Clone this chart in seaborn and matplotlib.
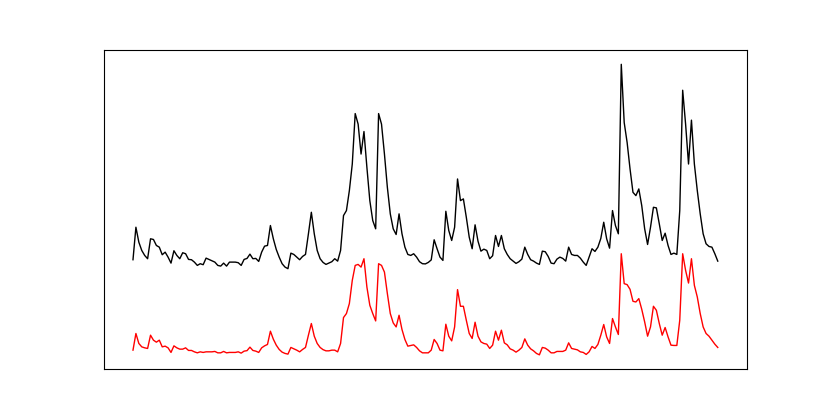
from matplotlib import pyplot as plt
import numpy as np
import pandas as pd
import seaborn as sns

# values (arbitrary units, higher = up)
black_px = [
    259.3, 226.7, 241.7, 250, 255, 258.3, 238.3, 239, 245, 246.7,
    254.3, 251.7, 256.7, 262.7, 250.3, 255, 258.3, 252.3, 253.3, 259,
    259.3, 261.7, 265, 263.3, 264.3, 257.7, 259, 260.3, 261.7, 265,
    265.7, 262.7, 265.7, 261.7, 261.7, 261.7, 262.3, 265, 259, 258,
    253.7, 258.3, 258, 261, 251.7, 245.7, 245, 225, 238.3, 249,
    256.7, 263.3, 266.7, 268.3, 252.7, 254, 256.7, 259.3, 256, 254,
    233.3, 211.7, 233.3, 250, 258.3, 262, 264, 262.7, 261.3, 258.3,
    260.7, 250, 215, 210, 190, 163.3, 112.7, 123.3, 153.3, 130.7,
    166.7, 200, 220, 228.3, 112.7, 123.3, 153.3, 186.7, 213.3, 228.3,
    234, 213.3, 233.3, 246.7, 254, 255, 253.3, 256.7, 261.3, 263.3,
    263.5, 262, 259.5, 239.3, 248.3, 256.7, 260, 210.7, 230, 240,
    226.7, 178.3, 200, 198.3, 216.7, 236.7, 248.3, 224.3, 240.7, 250.7,
    248.7, 250, 258.3, 255.3, 235, 246, 235, 248.3, 254, 258.3,
    260.7, 263, 261.3, 258.7, 246.7, 254, 259.3, 260.7, 262.7, 264,
    250.7, 251.3, 256, 262.7, 263.3, 258.7, 256.7, 258, 260.7, 246.7,
    254, 255, 255, 257.7, 261.7, 265, 256.7, 248.3, 251, 246.7,
    238, 221.7, 238.3, 247.7, 210, 225, 233.3, 63.3, 121.7, 141.7,
    168.3, 191.7, 195, 188.3, 205, 228.3, 244, 226.7, 206.7, 207.3,
    223.3, 240, 232.7, 245, 254, 252.7, 254, 210, 89.3, 123.3,
    163.3, 119.3, 163.3, 190, 213.3, 233.3, 243.3, 246, 246.7, 253.3,
    260.7,
]

red_px = [
    350, 333.3, 343.3, 346.7, 347.7, 348.3, 335, 340, 342, 340,
    346.7, 346, 347.7, 352.3, 345.7, 347.7, 349, 349, 347.7, 350.3,
    350.3, 351.7, 352.7, 351.7, 352.3, 351.7, 351.7, 351.7, 351.3, 352.7,
    352.7, 351.3, 352.7, 352.3, 352.3, 352.3, 351.7, 353, 351, 350.5,
    347, 350.3, 351, 352.3, 347.7, 345.7, 344.3, 331, 339, 345,
    349.3, 352, 353.3, 354, 347.3, 348.7, 350, 351.7, 349.3, 347.3,
    335, 323.3, 336, 343.3, 347.3, 349.5, 350.7, 350.7, 350, 350,
    351.7, 343.3, 317.3, 313.3, 303.3, 280, 265, 264, 266.7, 258.3,
    286.7, 305, 313.3, 320.7, 263.3, 265, 271.7, 293.3, 313.3, 322.7,
    326.7, 315, 329.3, 339.3, 346, 345.3, 344.7, 347.3, 350.7, 352.7,
    352.7, 352.7, 350, 339.3, 343.3, 350, 350.7, 324, 336, 340.7,
    326.7, 289.3, 306, 306, 320, 333.3, 338.3, 322, 336, 341.7,
    343.3, 344, 348.3, 345, 331, 340, 330, 342.7, 344.7, 348.7,
    350, 352, 350, 347.3, 338.7, 345, 348.7, 350.7, 353.3, 354.7,
    347.3, 348, 350, 352.7, 352.7, 351.3, 351.3, 351.3, 350, 342.7,
    348.3, 349, 349.7, 351.7, 352.3, 354.3, 351.7, 346.3, 348.3, 344.3,
    335, 324.3, 336.7, 343.3, 318.3, 326.7, 334.3, 253.3, 283.3, 284.3,
    289, 301, 301.7, 298.3, 309, 321.7, 336, 326.7, 306, 310,
    323.3, 335, 327.3, 336.7, 345, 345.3, 345.3, 320, 253.3, 270,
    282.7, 258.3, 285, 296.7, 313.3, 326.7, 333.3, 336, 340, 344,
    347.3,
]

black = 370 - np.array(black_px)
red = 370 - np.array(red_px)
idx = np.arange(len(black))

df = pd.DataFrame({"t": idx, "black": black, "red": red})

fig, ax = plt.subplots(figsize=(8.3, 4.15), dpi=100)
sns.lineplot(data=df, x="t", y="black", color="black", linewidth=1.0, ax=ax)
sns.lineplot(data=df, x="t", y="red", color="red", linewidth=1.0, ax=ax)
ax.set_xticks([])
ax.set_yticks([])
ax.set_xlabel("")
ax.set_ylabel("")
fig.savefig("out.png", dpi=100)
